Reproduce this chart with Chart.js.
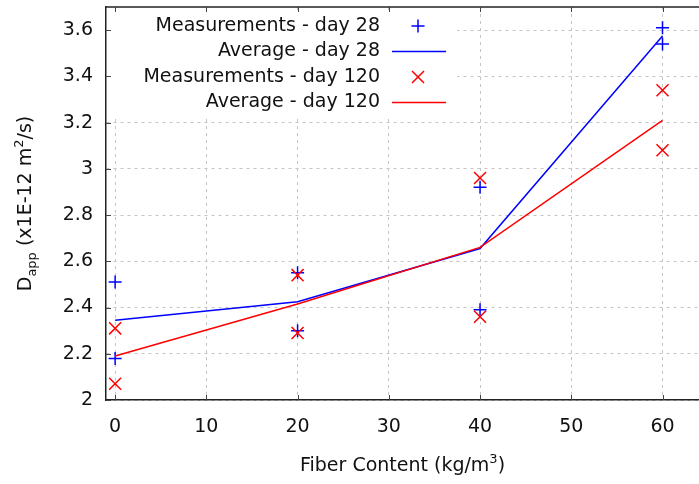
<!DOCTYPE html>
<html>
<head>
<meta charset="utf-8">
<script src="https://cdn.jsdelivr.net/npm/chart.js@4.4.1/dist/chart.umd.min.js"></script>
<style>
  html, body { margin: 0; padding: 0; background: #fff; overflow: hidden; }
  #box { width: 699px; height: 484px; }
</style>
</head>
<body>
<div id="box"><canvas id="chart"></canvas></div>
<script>
// fiber content (kg/m3) and D_app values (x1E-12 m2/s), two specimens per mix
const fiberContent = [0, 20, 40, 60];
const day28First = [2.51, 2.55, 2.92, 3.61];
const day28Second = [2.18, 2.30, 2.39, 3.54];
const day120First = [2.31, 2.54, 2.96, 3.34];
const day120Second = [2.07, 2.29, 2.36, 3.08];
const average28 = [2.345, 2.425, 2.655, 3.575];
const average120 = [2.19, 2.415, 2.66, 3.21];

const xTicks = [0, 10, 20, 30, 40, 50, 60];
const yTicks = [2, 2.2, 2.4, 2.6, 2.8, 3, 3.2, 3.4, 3.6];

const legendLabels = ['Measurements - day 28', 'Average - day 28', 'Measurements - day 120', 'Average - day 120'];

const FONT = '"DejaVu Sans", Verdana, sans-serif';
const BLUE = 'rgb(0,0,255)';
const RED = 'rgb(255,0,0)';

function toPoints(xs, ys) {
  return xs.map((x, i) => ({ x: x, y: ys[i] }));
}

const measured28 = toPoints(fiberContent, day28First).concat(toPoints(fiberContent, day28Second));
const measured120 = toPoints(fiberContent, day120First).concat(toPoints(fiberContent, day120Second));

// draws a run of text pieces with their own size / vertical shift, centred on x
function drawRich(ctx, parts, x, y) {
  let total = 0;
  parts.forEach(p => {
    ctx.font = p.size + 'px ' + FONT;
    p.w = ctx.measureText(p.t).width;
    total += p.w;
  });
  let cx = x - total / 2;
  ctx.textAlign = 'left';
  ctx.textBaseline = 'alphabetic';
  parts.forEach(p => {
    ctx.font = p.size + 'px ' + FONT;
    ctx.fillText(p.t, cx, y + (p.dy || 0));
    cx += p.w;
  });
}

// scales keep no extra room for their outer labels
function noPadding(s) {
  s.paddingTop = 0;
  s.paddingBottom = 0;
  s.paddingLeft = 0;
  s.paddingRight = 0;
}

const framePlugin = {
  id: 'frame',
  beforeDatasetsDraw(chart) {
    const ctx = chart.ctx;
    const a = chart.chartArea;
    const xs = chart.scales.x, ys = chart.scales.y;
    ctx.save();
    // top border
    ctx.strokeStyle = '#222';
    ctx.lineWidth = 1.5;
    ctx.beginPath();
    ctx.moveTo(a.left, a.top);
    ctx.lineTo(a.right, a.top);
    ctx.stroke();
    // inward tick marks
    ctx.strokeStyle = '#444';
    ctx.lineWidth = 1;
    ctx.beginPath();
    xTicks.forEach(v => {
      const px = Math.round(xs.getPixelForValue(v)) + 0.5;
      ctx.moveTo(px, a.bottom); ctx.lineTo(px, a.bottom - 5);
      ctx.moveTo(px, a.top); ctx.lineTo(px, a.top + 5);
    });
    yTicks.forEach(v => {
      const py = Math.round(ys.getPixelForValue(v)) + 0.5;
      ctx.moveTo(a.left, py); ctx.lineTo(a.left + 5, py);
    });
    ctx.stroke();
    // opaque key background
    ctx.fillStyle = '#fff';
    ctx.fillRect(111, 13, 346, 103);
    ctx.restore();
  },
  afterDatasetsDraw(chart) {
    const ctx = chart.ctx;
    const a = chart.chartArea;
    ctx.save();
    ctx.fillStyle = '#111';

    // key: right-aligned labels with sample to the right
    const rows = [26, 51.5, 77, 102.5];
    chart.data.datasets.forEach((ds, i) => {
      const y = rows[i];
      ctx.font = '19px ' + FONT;
      ctx.textAlign = 'right';
      ctx.textBaseline = 'middle';
      ctx.fillStyle = '#111';
      ctx.fillText(legendLabels[i], 380, y);
      ctx.strokeStyle = ds.borderColor;
      ctx.lineWidth = 1.5;
      if (ds.showLine) {
        ctx.beginPath();
        ctx.moveTo(392, y);
        ctx.lineTo(446, y);
        ctx.stroke();
      } else {
        Chart.helpers.drawPoint(ctx, {
          pointStyle: ds.pointStyle,
          radius: ds.pointRadius,
          rotation: 0,
          borderWidth: ds.borderWidth
        }, 418, y);
      }
    });

    // axis titles
    ctx.fillStyle = '#111';
    const cx = (a.left + a.right) / 2;
    drawRich(ctx, [
      { t: 'Fiber Content (kg/m', size: 19 },
      { t: '3', size: 13, dy: -8 },
      { t: ')', size: 19 }
    ], cx, 471);

    ctx.translate(31, (a.top + a.bottom) / 2);
    ctx.rotate(-Math.PI / 2);
    drawRich(ctx, [
      { t: 'D', size: 19 },
      { t: 'app', size: 13, dy: 5 },
      { t: ' (x1E-12 m', size: 19 },
      { t: '2', size: 13, dy: -8 },
      { t: '/s)', size: 19 }
    ], 0, 0);
    ctx.restore();
  }
};

const ctx = document.getElementById('chart');

new Chart(ctx, {
  type: 'scatter',
  data: {
    datasets: [
      {
        label: legendLabels[0],
        data: measured28,
        showLine: false,
        pointStyle: 'cross',
        pointRadius: 6.5,
        borderWidth: 1.5,
        borderColor: BLUE,
        backgroundColor: BLUE,
        order: 4
      },
      {
        label: legendLabels[1],
        data: toPoints(fiberContent, average28),
        showLine: true,
        pointRadius: 0,
        borderWidth: 1.5,
        borderColor: BLUE,
        backgroundColor: BLUE,
        order: 3
      },
      {
        label: legendLabels[2],
        data: measured120,
        showLine: false,
        pointStyle: 'crossRot',
        pointRadius: 8.5,
        borderWidth: 1.5,
        borderColor: RED,
        backgroundColor: RED,
        order: 2
      },
      {
        label: legendLabels[3],
        data: toPoints(fiberContent, average120),
        showLine: true,
        pointRadius: 0,
        borderWidth: 1.5,
        borderColor: RED,
        backgroundColor: RED,
        order: 1
      }
    ]
  },
  options: {
    responsive: true,
    maintainAspectRatio: false,
    animation: false,
    layout: { autoPadding: false, padding: { top: 7, left: 0, right: 0, bottom: 0 } },
    plugins: {
      legend: { display: false },
      tooltip: { enabled: false }
    },
    scales: {
      x: {
        type: 'linear',
        min: -1,
        max: 64,
        afterBuildTicks: s => { s.ticks = xTicks.map(v => ({ value: v })); },
        afterFit: s => { s.height = 84; noPadding(s); },
        grid: { color: '#c4c4c4', lineWidth: 1, drawTicks: false },
        border: { display: true, color: '#222', width: 1.5, dash: [3, 4] },
        ticks: {
          padding: 16,
          color: '#111',
          font: { family: FONT, size: 19 },
          maxRotation: 0,
          callback: v => String(v)
        }
      },
      y: {
        type: 'linear',
        min: 2,
        max: 3.7,
        afterBuildTicks: s => { s.ticks = yTicks.map(v => ({ value: v })); },
        afterFit: s => { s.width = 106; noPadding(s); },
        grid: { color: '#c4c4c4', lineWidth: 1, drawTicks: false },
        border: { display: true, color: '#222', width: 1.5, dash: [3, 4] },
        ticks: {
          padding: 13,
          color: '#111',
          font: { family: FONT, size: 19 },
          callback: v => String(+v.toFixed(1))
        }
      }
    }
  },
  plugins: [framePlugin]
});
</script>
</body>
</html>
